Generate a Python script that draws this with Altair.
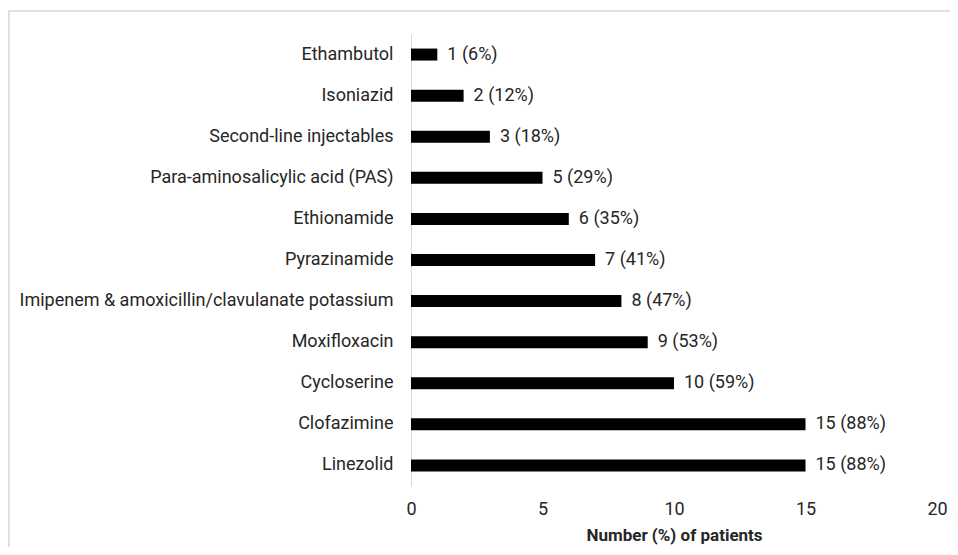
import altair as alt
import pandas as pd

drugs = [
    "Ethambutol",
    "Isoniazid",
    "Second-line injectables",
    "Para-aminosalicylic acid (PAS)",
    "Ethionamide",
    "Pyrazinamide",
    "Imipenem & amoxicillin/clavulanate potassium",
    "Moxifloxacin",
    "Cycloserine",
    "Clofazimine",
    "Linezolid",
]
counts = [1, 2, 3, 5, 6, 7, 8, 9, 10, 15, 15]
percents = [6, 12, 18, 29, 35, 41, 47, 53, 59, 88, 88]

df = pd.DataFrame({"drug": drugs, "n": counts, "pct": percents})
df["label"] = [f"{n} ({p}%)" for n, p in zip(counts, percents)]

FONT = "Roboto"
FS = 18

y_enc = alt.Y("drug:N", sort=drugs, title=None,
              axis=alt.Axis(domainColor="#d9d9d9", domainWidth=1, ticks=False,
                            labelPadding=18, labelFontSize=FS, labelFont=FONT,
                            labelColor="#262626", labelLimit=500))
x_enc = alt.X("n:Q", scale=alt.Scale(domain=[0, 20]),
              title="Number (%) of patients",
              axis=alt.Axis(values=[0, 5, 10, 15, 20], grid=False, domain=False,
                            ticks=False, labelFlush=False, labelPadding=14,
                            labelFontSize=FS, labelFont=FONT, labelColor="#262626",
                            titleFont=FONT, titleFontSize=17, titleFontWeight="bold",
                            titleColor="#262626", titlePadding=9))

bars = alt.Chart(df).mark_bar(color="black", size=12).encode(x=x_enc, y=y_enc)
text = alt.Chart(df).mark_text(align="left", dx=10, font=FONT, fontSize=FS,
                               color="#262626").encode(
    x="n:Q", y=alt.Y("drug:N", sort=drugs), text="label:N")

frame_top = alt.Chart(df).mark_rule(color="#e0e0e0", strokeWidth=2).encode(
    x=alt.value(-403), x2=alt.value(560), y=alt.value(-23))
frame_left = alt.Chart(df).mark_rule(color="#e0e0e0", strokeWidth=2).encode(
    x=alt.value(-402), y=alt.value(-23), y2=alt.value(513))

chart = alt.layer(frame_top, frame_left, bars, text).properties(
    width=526, height=452,
    autosize=alt.AutoSizeParams(type="none"),
    padding={"left": 403, "top": 26, "right": 13, "bottom": 61},
).configure_view(stroke=None)

chart.save("out.html", embed_options={"renderer": "svg", "actions": False})
